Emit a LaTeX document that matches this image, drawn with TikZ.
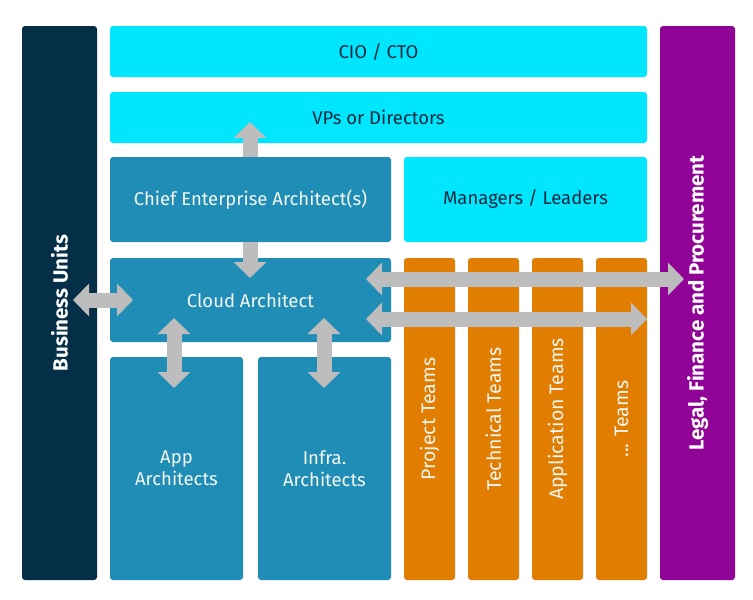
\documentclass[tikz,border=0pt]{standalone}
\usepackage{fontspec}
\setmainfont{Fira Sans}
\usetikzlibrary{arrows.meta}
\definecolor{navy}{HTML}{052F47}
\definecolor{cyanbox}{HTML}{00E6FF}
\definecolor{bluebox}{HTML}{1F8DB5}
\definecolor{orangebox}{HTML}{E17D00}
\definecolor{purplebox}{HTML}{8F0496}
\definecolor{arrowgray}{HTML}{BDBDBD}
\definecolor{darktext}{HTML}{0A2A3F}
\definecolor{lighttext}{HTML}{F4F6F2}
\tikzset{
  box/.style={rectangle, rounded corners=3pt, inner sep=0pt, font=\fontsize{18.5}{22}\selectfont, align=center},
  cyanstyle/.style={box, fill=cyanbox, text=darktext},
  bluestyle/.style={box, fill=bluebox, text=lighttext},
  orangestyle/.style={box, fill=orangebox, text=lighttext, rotate=90, font=\fontsize{19.5}{22}\selectfont},
  sidestyle/.style={box, text=white, rotate=90, font=\fontsize{20.5}{24}\selectfont\bfseries},
  garrow/.style={draw=arrowgray, line width=15pt, {Triangle[width=32pt,length=16pt]}-{Triangle[width=32pt,length=16pt]}},
  garrowone/.style={draw=arrowgray, line width=15pt, -{Triangle[width=32pt,length=16pt]}}
}
\begin{document}
\begin{tikzpicture}[x=1pt,y=-1pt]
\useasboundingbox (0,0) rectangle (753,600);
\fill[white] (0,0) rectangle (753,600);
% side bars
\node[sidestyle, fill=navy, minimum width=554pt, minimum height=75pt] (bu) at (59.5,303) {Business Units};
\node[sidestyle, fill=purplebox, minimum width=554pt, minimum height=75pt] (legal) at (697.5,303) {Legal, Finance and Procurement};
% top rows
\node[cyanstyle, minimum width=537pt, minimum height=51pt] (cio) at (378.5,51.5) {CIO / CTO};
\node[cyanstyle, minimum width=537pt, minimum height=51pt] (vp) at (378.5,117.5) {VPs or Directors};
\node[bluestyle, minimum width=281pt, minimum height=85pt] (chief) at (250.5,199.5) {Chief Enterprise Architect(s)};
\node[cyanstyle, minimum width=243pt, minimum height=85pt] (mgr) at (525.5,199.5) {Managers / Leaders};
\node[bluestyle, minimum width=281pt, minimum height=84pt] (cloud) at (250.5,300) {Cloud Architect};
\node[bluestyle, minimum width=133pt, minimum height=223pt] (app) at (176.5,468.5) {App\\Architects};
\node[bluestyle, minimum width=133pt, minimum height=223pt] (infra) at (324.5,468.5) {Infra.\\Architects};
% orange team bars
\node[orangestyle, minimum width=322pt, minimum height=51pt] (proj) at (429.5,419) {Project Teams};
\node[orangestyle, minimum width=322pt, minimum height=51pt] (tech) at (493.5,419) {Technical Teams};
\node[orangestyle, minimum width=322pt, minimum height=51pt] (appt) at (557.5,419) {Application Teams};
\node[orangestyle, minimum width=322pt, minimum height=51pt] (more) at (621.5,419) {... Teams};
% arrow end points
\coordinate (vpA) at (250,122);
\coordinate (chiefTop) at (250,157);
\coordinate (chiefIn) at (250,242);
\coordinate (cloudA) at (250,278);
\coordinate (buA) at (73,300);
\coordinate (cloudB) at (133,300);
\coordinate (appTop) at (174,318);
\coordinate (appBot) at (174,388);
\coordinate (infTop) at (324,318);
\coordinate (infBot) at (324,388);
\coordinate (l1a) at (366,279);
\coordinate (l1b) at (684,279);
\coordinate (l2a) at (366,319);
\coordinate (l2b) at (647,319);
% arrows
\draw[garrowone] (chiefTop) -- (vpA);
\draw[garrowone] (chiefIn) -- (cloudA);
\draw[garrow] (buA) -- (cloudB);
\draw[garrow] (appTop) -- (appBot);
\draw[garrow] (infTop) -- (infBot);
\draw[garrow] (l1a) -- (l1b);
\draw[garrow] (l2a) -- (l2b);
\end{tikzpicture}
\end{document}
